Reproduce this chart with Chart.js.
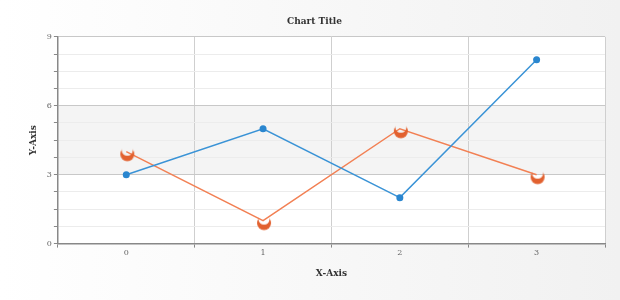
<!DOCTYPE html>
<html>
<head>
<meta charset="utf-8">
<script src="https://cdn.jsdelivr.net/npm/chart.js@4/dist/chart.umd.min.js"></script>
<style>
  html, body { margin: 0; padding: 0; background: #fff; }
  #wrap { width: 620px; height: 300px; }
</style>
</head>
<body>
<div id="wrap"><canvas id="lineChart" width="620" height="300"></canvas></div>
<script>
var categories = ['0', '1', '2', '3'];
var seriesBlue = [3, 5, 2, 8];
var seriesOrange = [4, 1, 5, 3];
var bandRange = [3, 6]; // shaded band on the y axis

// bowl shaped marker for the orange series
function makeCrescent(color) {
    var c = document.createElement('canvas');
    c.width = 18; c.height = 22;
    var g = c.getContext('2d');
    g.fillStyle = color;
    g.beginPath();
    g.arc(10, 13.5, 7, 0, Math.PI * 2);
    g.fill();
    g.globalCompositeOperation = 'destination-out';
    g.beginPath();
    g.arc(10, 9.5, 5.5, 0, Math.PI * 2);
    g.fill();
    return c;
}

var backdrop = {
    id: 'backdrop',
    beforeDraw: function (chart) {
        var ctx = chart.ctx, a = chart.chartArea, y = chart.scales.y;
        ctx.save();
        var grad = ctx.createLinearGradient(0, 0, chart.width, 0);
        grad.addColorStop(0, '#ffffff');
        grad.addColorStop(1, '#f1f1f1');
        ctx.fillStyle = grad;
        ctx.fillRect(0, 0, chart.width, chart.height);
        ctx.fillStyle = '#ffffff';
        ctx.fillRect(a.left, a.top, a.right - a.left, a.bottom - a.top);
        var top = y.getPixelForValue(bandRange[1]);
        var bottom = y.getPixelForValue(bandRange[0]);
        ctx.fillStyle = '#f4f4f4';
        ctx.fillRect(a.left, top, a.right - a.left, bottom - top);
        ctx.restore();
    }
};

var ctx = document.getElementById('lineChart').getContext('2d');
var lineChart = new Chart(ctx, {
    type: 'line',
    data: {
        labels: categories,
        datasets: [{
            label: 'Series 1',
            data: seriesBlue,
            borderColor: '#3a93d6',
            backgroundColor: '#2a86cf',
            borderWidth: 1.5,
            pointRadius: 3.5,
            pointBorderWidth: 0,
            fill: false
        }, {
            label: 'Series 2',
            data: seriesOrange,
            borderColor: '#f28054',
            backgroundColor: '#e2612f',
            borderWidth: 1.5,
            pointStyle: makeCrescent('#e2612f'),
            fill: false
        }]
    },
    options: {
        responsive: false,
        animation: false,
        layout: { padding: { left: 24, right: 15, top: 6, bottom: 17 } },
        plugins: {
            legend: { display: false },
            tooltip: { enabled: false },
            title: {
                display: true,
                text: 'Chart Title',
                color: '#333',
                font: { family: 'DejaVu Serif', size: 9, weight: 'bold' },
                padding: { top: 10, bottom: 10 }
            }
        },
        scales: {
            x: {
                offset: true,
                grid: { offset: true, color: '#cfcfcf', tickColor: '#888', tickLength: 4 },
                border: { color: '#888', width: 1.5 },
                ticks: { color: '#666', font: { family: 'DejaVu Serif', size: 8 }, padding: 1 },
                title: {
                    display: true, text: 'X-Axis', color: '#333',
                    font: { family: 'DejaVu Serif', size: 9, weight: 'bold' },
                    padding: { top: 9 }
                }
            },
            y: {
                min: 0,
                max: 9,
                grid: {
                    color: function (c) { return c.tick && c.tick.value % 3 === 0 ? '#c8c8c8' : '#ececec'; },
                    tickColor: '#888',
                    tickLength: 4
                },
                border: { color: '#888', width: 1.5 },
                ticks: {
                    stepSize: 0.75,
                    autoSkip: false,
                    color: '#666',
                    font: { family: 'DejaVu Serif', size: 8 },
                    padding: 2,
                    callback: function (v) { return v % 3 === 0 ? v : ''; }
                },
                title: {
                    display: true, text: 'Y-Axis', color: '#333',
                    font: { family: 'DejaVu Serif', size: 9, weight: 'bold' },
                    padding: { bottom: 6 }
                }
            }
        }
    },
    plugins: [backdrop]
});
</script>
</body>
</html>
